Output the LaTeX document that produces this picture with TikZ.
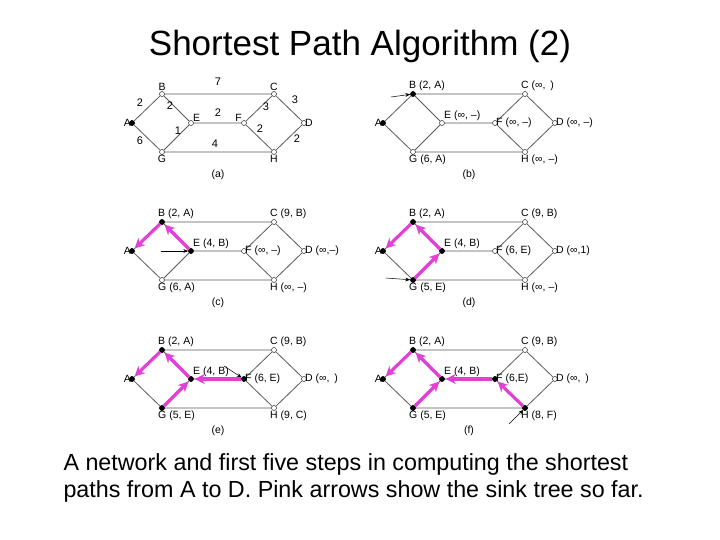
\documentclass[tikz,border=0pt]{standalone}
\usepackage{fontspec}
\setmainfont{Liberation Sans}
\usetikzlibrary{arrows.meta,positioning,calc,backgrounds}
\definecolor{pink}{HTML}{E23FD6}
\tikzset{
  nd/.style={circle,draw,inner sep=0pt,minimum size=5pt,fill=white},
  pm/.style={nd,fill=black},
  lb/.style={font=\fontsize{10.5}{11}\selectfont,inner sep=1pt},
  ed/.style={draw=gray!70!black,line width=0.8pt},
  tr/.style={draw=pink,line width=3.2pt,-{Stealth[length=10pt,width=10pt]},shorten >=1pt},
  pt/.style={-{Stealth[length=5pt]},line width=0.5pt},
  wt/.style={font=\fontsize{11}{12}\selectfont,inner sep=1pt},
  ar/.style={lb,above right=2pt and -5pt},
  br/.style={lb,below right=2pt and -5pt}
}
% #1 prefix, #2 x, #3 y
\newcommand\mkpanel[3]{%
  \coordinate (#1o) at (#2,#3);
  \node[nd] (#1A) at ($(#1o)$) {};
  \node[nd] (#1B) at ($(#1o)+(30,-29)$) {};
  \node[nd] (#1C) at ($(#1o)+(142,-29)$) {};
  \node[nd] (#1E) at ($(#1o)+(59,0)$) {};
  \node[nd] (#1F) at ($(#1o)+(112,0)$) {};
  \node[nd] (#1D) at ($(#1o)+(172,0)$) {};
  \node[nd] (#1G) at ($(#1o)+(30,29)$) {};
  \node[nd] (#1H) at ($(#1o)+(142,29)$) {};
  \begin{scope}[on background layer]
  \draw[ed] (#1A)--(#1B)--(#1C)--(#1D)--(#1H)--(#1G)--(#1A);
  \draw[ed] (#1B)--(#1E)--(#1G); \draw[ed] (#1E)--(#1F)--(#1C); \draw[ed] (#1F)--(#1H);
  \end{scope}
}
\begin{document}
\begin{tikzpicture}[x=1pt,y=-1pt]
\useasboundingbox (0,0) rectangle (720,540);
\node[font=\fontsize{35}{40}\selectfont] (title) at (360,46) {Shortest Path Algorithm (2)};
\node[font=\fontsize{23.3}{27}\selectfont,align=left,anchor=west] (cap) at (60,478)
 {A network and first five steps in computing the shortest\\paths from A to D. Pink arrows show the sink tree so far.};

% (a)
\mkpanel{a}{132}{123}
\node[pm] at (aA) {};
\node[lb,left] (la1) at (aA) {A}; \node[lb,above=2pt] (la2) at (aB) {B}; \node[lb,above=2pt] (la3) at (aC) {C};
\node[lb,right] (la4) at (aD) {D}; \node[lb,below=2pt] (la5) at (aG) {G}; \node[lb,below=2pt] (la6) at (aH) {H};
\node[lb,above right=0pt and 1pt] (la7) at (aE) {E}; \node[lb,above left=0pt and 1pt] (la8) at (aF) {F};
\node[wt] (w1) at ($(aA)+(8,-20)$) {2}; \node[wt] (w2) at ($(aA)+(8,18)$) {6};
\node[wt] (w3) at ($(aA)+(86,-41)$) {7}; \node[wt] (w4) at ($(aA)+(38,-17)$) {2};
\node[wt] (w5) at ($(aA)+(46,8)$) {1}; \node[wt] (w6) at ($(aA)+(86,-10)$) {2};
\node[wt] (w7) at ($(aA)+(83,21)$) {4}; \node[wt] (w8) at ($(aA)+(134,-16)$) {3};
\node[wt] (w9) at ($(aA)+(163,-23)$) {3}; \node[wt] (w10) at ($(aA)+(128,6)$) {2};
\node[wt] (w11) at ($(aA)+(165,16)$) {2};
\node[lb] (ca) at ($(aA)+(86,52)$) {(a)};

% (b)
\mkpanel{b}{383}{123}
\node[pm] at (bA) {}; \node[pm] at (bB) {};
\node[lb,left] at (bA) {A}; \node[ar] at (bB) {B (2, A)};
\node[ar] at (bC) {C (∞, \,)};
\node[lb,above right=1pt and 1pt] at (bE) {E (∞, –)}; \node[lb,right] at (bF) {F (∞, –)};
\node[lb,right] at (bD) {D (∞, –)};
\node[br] at (bG) {G (6, A)}; \node[br] at (bH) {H (∞, –)};
\node[lb] at ($(bA)+(86,52)$) {(b)};
\coordinate (pb) at ($(bB)+(-22,3)$); \draw[pt] (pb)--(bB);

% (c)
\mkpanel{c}{132}{251}
\foreach \n in {A,B,E} \node[pm] at (c\n) {};
\node[lb,left] at (cA) {A}; \node[ar] at (cB) {B (2, A)};
\node[ar] at (cC) {C (9, B)};
\node[lb,above right=1pt and 1pt] at (cE) {E (4, B)}; \node[lb,right] at (cF) {F (∞, –)};
\node[lb,right] at (cD) {D (∞,–)};
\node[br] at (cG) {G (6, A)}; \node[br] at (cH) {H (∞, –)};
\node[lb] at ($(cA)+(86,52)$) {(c)};
\coordinate (pc) at ($(cE)+(-30,0)$); \draw[pt] (pc)--(cE);
\draw[tr] (cB)--(cA); \draw[tr] (cE)--(cB);

% (d)
\mkpanel{d}{383}{251}
\foreach \n in {A,B,E,G} \node[pm] at (d\n) {};
\node[lb,left] at (dA) {A}; \node[ar] at (dB) {B (2, A)};
\node[ar] at (dC) {C (9, B)};
\node[lb,above right=1pt and 1pt] at (dE) {E (4, B)}; \node[lb,right] at (dF) {F (6, E)};
\node[lb,right] at (dD) {D (∞,1)};
\node[br] at (dG) {G (5, E)}; \node[br] at (dH) {H (∞, –)};
\node[lb] at ($(dA)+(86,52)$) {(d)};
\coordinate (pd) at ($(dG)+(-27,-2)$); \draw[pt] (pd)--(dG);
\draw[tr] (dB)--(dA); \draw[tr] (dE)--(dB); \draw[tr] (dG)--(dE);

% (e)
\mkpanel{e}{132}{379}
\foreach \n in {A,B,E,G,F} \node[pm] at (e\n) {};
\node[lb,left] at (eA) {A}; \node[ar] at (eB) {B (2, A)};
\node[ar] at (eC) {C (9, B)};
\node[lb,above right=1pt and 1pt] at (eE) {E (4, B)}; \node[lb,right] at (eF) {F (6, E)};
\node[lb,right] at (eD) {D (∞, \,)};
\node[br] at (eG) {G (5, E)}; \node[br] at (eH) {H (9, C)};
\node[lb] at ($(eA)+(86,52)$) {(e)};
\coordinate (pe) at ($(eF)+(-20,-13)$); \draw[pt] (pe)--(eF);
\draw[tr] (eB)--(eA); \draw[tr] (eE)--(eB); \draw[tr] (eG)--(eE); \draw[tr] (eF)--(eE);

% (f)
\mkpanel{f}{383}{379}
\foreach \n in {A,B,E,G,F,H} \node[pm] at (f\n) {};
\node[lb,left] at (fA) {A}; \node[ar] at (fB) {B (2, A)};
\node[ar] at (fC) {C (9, B)};
\node[lb,above right=1pt and 1pt] at (fE) {E (4, B)}; \node[lb,right] at (fF) {F (6,E)};
\node[lb,right] at (fD) {D (∞, \,)};
\node[br] at (fG) {G (5, E)}; \node[br] at (fH) {H (8, F)};
\node[lb] at ($(fA)+(86,52)$) {(f)};
\coordinate (pf) at ($(fH)+(-16,16)$); \draw[pt] (pf)--(fH);
\draw[tr] (fB)--(fA); \draw[tr] (fE)--(fB); \draw[tr] (fG)--(fE); \draw[tr] (fF)--(fE); \draw[tr] (fH)--(fF);
\end{tikzpicture}
\end{document}
